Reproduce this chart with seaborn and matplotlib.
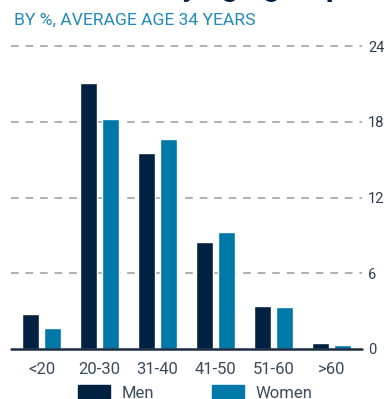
import matplotlib
matplotlib.use("Agg")
import matplotlib.pyplot as plt
import matplotlib.patches as mpatches
import seaborn as sns
import pandas as pd

# Age groups and share of staff (%) by sex
age_groups = ["<20", "20-30", "31-40", "41-50", "51-60", ">60"]
men = [2.8, 21.1, 15.5, 8.5, 3.4, 0.5]
women = [1.7, 18.2, 16.6, 9.3, 3.3, 0.3]
series = ["Men", "Women"]
y_ticks = [0, 6, 12, 18, 24]

NAVY = "#00213f"
BLUE = "#0078a8"
TITLE_BLUE = "#2189bd"
TEXT = "#2e3d50"

df = pd.DataFrame({
    "age": age_groups * 2,
    "pct": men + women,
    "sex": [series[0]] * len(men) + [series[1]] * len(women),
})

sns.set_style("white")
plt.rcParams["font.family"] = ["Roboto", "DejaVu Sans"]

fig = plt.figure(figsize=(3.84, 3.99), dpi=100)
ax = fig.add_axes([11 / 384, 1 - 349 / 399, 351 / 384, 303 / 399])

sns.barplot(data=df, x="age", y="pct", hue="sex", order=age_groups,
            hue_order=series, palette=[NAVY, BLUE], saturation=1,
            width=0.76, gap=0.23, legend=False, ax=ax)

ax.set_xlim(-0.526, 5.526)
ax.set_ylim(0, 24)
ax.set_yticks(y_ticks)
ax.yaxis.tick_right()
ax.set_xlabel("")
ax.set_ylabel("")
for s in ax.spines.values():
    s.set_visible(False)

# dashed gridlines and solid baseline
for v in y_ticks[1:]:
    ax.axhline(v, color="#9a9a9a", lw=1.1, ls=(0, (5, 4.5)), zorder=0,
               clip_on=False)
ax.axhline(0, color="#1c2c44", lw=1.8, zorder=5, clip_on=False)

ax.tick_params(axis="y", length=0, pad=4.5, labelsize=10.5, labelcolor=TEXT)
ax.tick_params(axis="x", length=0, pad=9, labelsize=12, labelcolor="#3b4a5c")

# heading and subtitle
fig.text(14 / 384, 1 + 4 / 399, "Workforce by age group", fontsize=22,
         fontweight="bold", color=NAVY, ha="left", va="baseline")
fig.text(14 / 384, 1 - 25 / 399, "BY %, AVERAGE AGE 34 YEARS",
         fontsize=12.6, color=TITLE_BLUE, ha="left", va="baseline")

handles = [mpatches.Patch(color=NAVY, label=series[0]),
           mpatches.Patch(color=BLUE, label=series[1])]
leg = fig.legend(handles=handles, loc="upper left",
                 bbox_to_anchor=(78 / 384, 1 - 385 / 399), ncol=2,
                 frameon=False, fontsize=12, handlelength=1.94,
                 handleheight=1.0, handletextpad=0.7, columnspacing=3.45,
                 borderpad=0, borderaxespad=0, labelcolor="#3b4a5c")

fig.savefig("out.png", dpi=100)
